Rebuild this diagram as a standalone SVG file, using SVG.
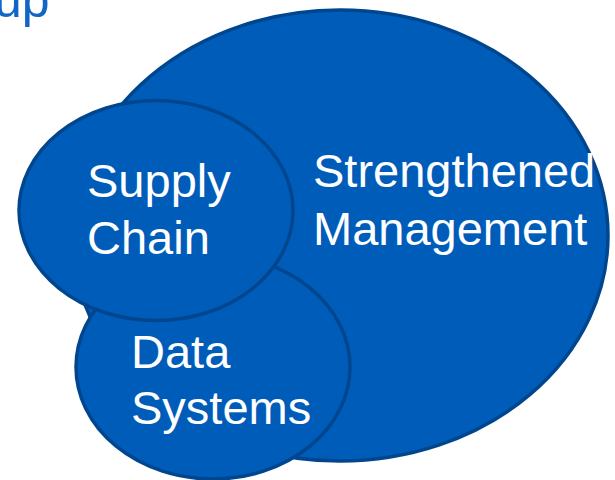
<svg xmlns="http://www.w3.org/2000/svg" width="615" height="480" viewBox="0 0 615 480">
<style>
.bub{fill:#005CB9;stroke:#00468E;stroke-width:3.5}
.lbl{font-family:"Liberation Sans",Arial,sans-serif;font-size:47px;fill:#FFFFFF}
.ttl{font-family:"Liberation Sans",Arial,sans-serif;font-size:50px;fill:#1066C6}
</style>
<rect width="615" height="480" fill="#FFFFFF"/>
<text class="ttl" x="-6" y="17">up</text>
<g id="strengthened-management">
<ellipse class="bub" cx="340" cy="235.5" rx="268" ry="225.5"/>
<text class="lbl" x="313" y="187">Strengthened</text>
<text class="lbl" x="313" y="245">Management</text>
</g>
<g id="data-systems">
<ellipse class="bub" cx="213" cy="367" rx="137" ry="112"/>
<text class="lbl" x="131" y="368">Data</text>
<text class="lbl" x="131" y="424">Systems</text>
</g>
<g id="supply-chain">
<ellipse class="bub" cx="156" cy="210.5" rx="137" ry="110"/>
<text class="lbl" x="87" y="197">Supply</text>
<text class="lbl" x="87" y="254">Chain</text>
</g>
<g id="connectors"></g>
</svg>
